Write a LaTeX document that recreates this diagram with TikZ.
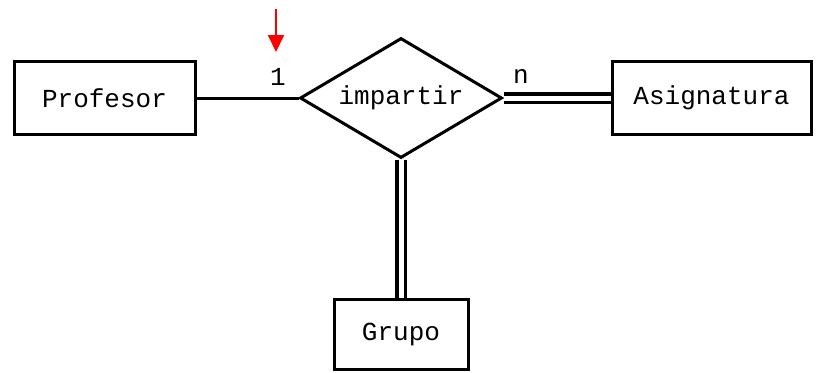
\documentclass[tikz,border=0pt]{standalone}
\usepackage{fontspec}
\setmonofont{Liberation Mono}
\usetikzlibrary{shapes.geometric,arrows.meta}
\begin{document}
\begin{tikzpicture}[x=1pt,y=-1pt,
  entity/.style={draw,line width=3pt,rectangle,inner sep=0pt,font=\ttfamily\fontsize{26}{28}\selectfont},
  rel/.style={draw,line width=3pt,diamond,shape aspect=1.683,inner sep=0pt,minimum width=202pt,minimum height=120pt,font=\ttfamily\fontsize{26}{28}\selectfont},
  card/.style={inner sep=0pt,font=\ttfamily\fontsize{26}{28}\selectfont},
  single/.style={line width=3pt},
  total/.style={line width=3.5pt,double=white,double distance=5pt},
  marker/.style={red,line width=2pt,-{Triangle[width=16pt,length=17pt]}}]
\useasboundingbox (0,0) rectangle (816,372);
\node[entity,minimum width=181pt,minimum height=72.5pt] (prof) at (104.5,98) {Profesor};
\node[entity,minimum width=199pt,minimum height=73pt] (asig) at (711.5,98) {Asignatura};
\node[entity,minimum width=134pt,minimum height=70.5pt] (grupo) at (401,334.7) {Grupo};
\node[rel] (imp) at (401,98) {impartir};
\draw[single] (prof.east) -- (imp.west);
\draw[total] (imp.east) -- (asig.west);
\draw[total] (imp.south) -- (grupo.north);
\node[card] (one) at (278,77) {1};
\node[card] (many) at (521,77) {n};
\coordinate (mtop) at (276,9);
\coordinate (mtip) at (276,52);
\draw[marker] (mtop) -- (mtip);
\end{tikzpicture}
\end{document}
